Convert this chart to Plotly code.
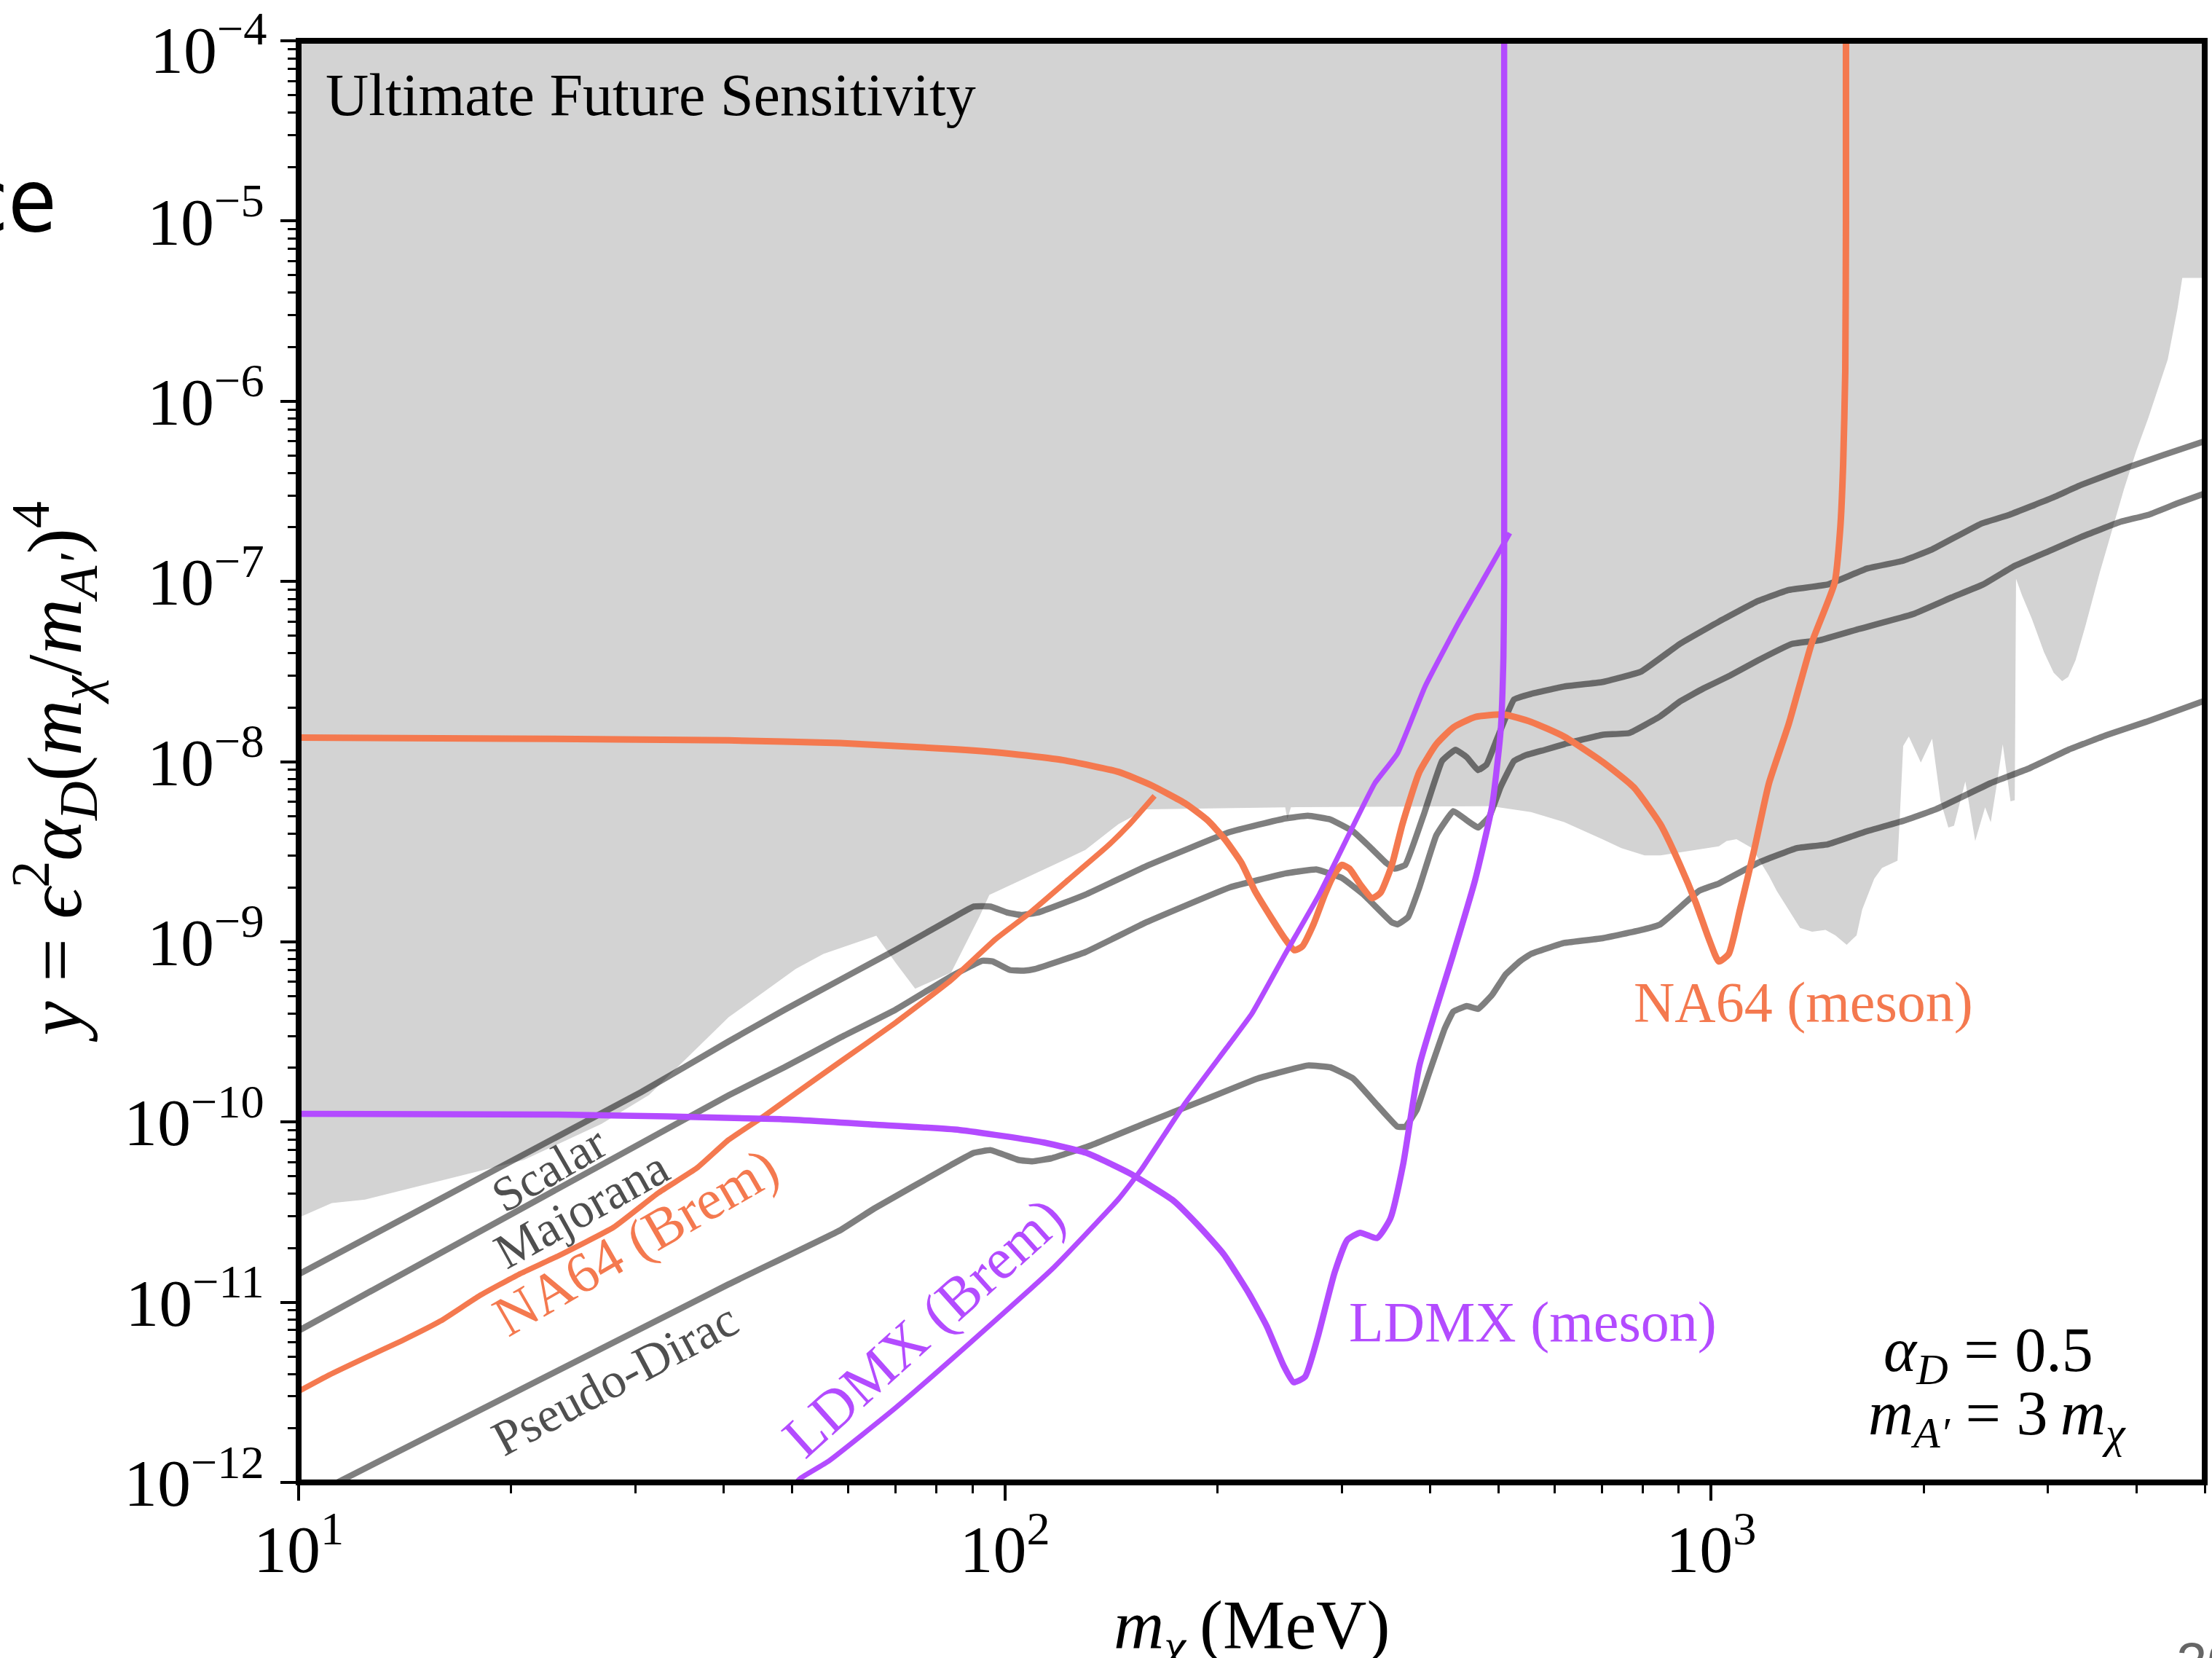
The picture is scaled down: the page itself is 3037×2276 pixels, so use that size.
import numpy as np
import plotly.graph_objects as go

# All curves are stored as log10(m_chi / MeV) and log10(y).

# lower edge of the "Ultimate Future Sensitivity" region (filled up to the top)
region_log_m = [0.99, 1.0, 1.047, 1.094, 1.319, 1.429, 1.496, 1.609, 1.704, 1.743, 1.818,
                1.846, 1.873, 1.924, 1.964, 1.978, 2.082, 2.114, 2.161, 2.2, 2.397, 2.40,
                2.405, 2.689, 2.745, 2.792, 2.846, 2.873, 2.906, 2.928, 3.011, 3.022, 3.036,
                3.058, 3.082, 3.093, 3.126, 3.143, 3.162, 3.176, 3.192, 3.206, 3.214, 3.231,
                3.242, 3.264, 3.267, 3.272, 3.28, 3.297, 3.313, 3.325, 3.336, 3.344, 3.36,
                3.374, 3.388, 3.396, 3.404, 3.413, 3.424, 3.430, 3.4318, 3.4404, 3.4541,
                3.4714, 3.4851, 3.4971, 3.5057, 3.516, 3.5297, 3.5503, 3.5675, 3.5847,
                3.6019, 3.6191, 3.6466, 3.6603, 3.6672, 3.71, 3.71, 0.99]
region_log_y = [-10.53, -10.53, -10.45, -10.43, -10.21, -10.01, -9.85, -9.418, -9.15, -9.067,
                -8.966, -9.12, -9.26, -9.17, -8.86, -8.74, -8.55, -8.49, -8.346, -8.265,
                -8.253, -8.32, -8.253, -8.247, -8.28, -8.335, -8.43, -8.48, -8.52, -8.52,
                -8.47, -8.44, -8.43, -8.48, -8.634, -8.717, -8.923, -8.944, -8.934, -8.964,
                -9.016, -8.964, -8.82, -8.65, -8.59, -8.55, -8.325, -7.913, -7.86, -8.005,
                -7.872, -8.22, -8.366, -8.356, -8.11, -8.44, -8.253, -8.336, -8.14, -7.904,
                -8.22, -8.214, -6.985, -7.078, -7.206, -7.392, -7.507, -7.553, -7.530,
                -7.438, -7.252, -6.951, -6.719, -6.487, -6.278, -6.093, -5.768, -5.489,
                -5.3155, -5.3155, -3.9, -3.9]

scalar_log_m = [1.0, 1.485, 1.609, 1.688, 1.767, 1.845, 1.924, 1.956, 1.980, 2.003, 2.023,
                2.047, 2.114, 2.2, 2.319, 2.397, 2.429, 2.461, 2.493, 2.516, 2.540, 2.552,
                2.567, 2.594, 2.619, 2.638, 2.654, 2.670, 2.682, 2.697, 2.721, 2.745, 2.792,
                2.846, 2.901, 2.956, 3.011, 3.066, 3.110, 3.165, 3.221, 3.271, 3.312, 3.382,
                3.423, 3.483, 3.524, 3.594, 3.640, 3.70]
scalar_log_y = [-10.845, -9.834, -9.552, -9.377, -9.21, -9.046, -8.872, -8.804, -8.804,
                -8.837, -8.851, -8.837, -8.738, -8.58, -8.39, -8.315, -8.30, -8.321, -8.387,
                -8.47, -8.562, -8.594, -8.573, -8.284, -7.996, -7.934, -7.975, -8.047,
                -8.016, -7.872, -7.655, -7.624, -7.583, -7.558, -7.50, -7.346, -7.223,
                -7.109, -7.047, -7.017, -6.928, -6.886, -6.824, -6.68, -6.629, -6.536,
                -6.464, -6.361, -6.299, -6.22]

majorana_log_m = [1.0, 1.609, 1.688, 1.767, 1.845, 1.924, 1.968, 1.983, 2.007, 2.027, 2.043,
                  2.114, 2.200, 2.319, 2.398, 2.441, 2.477, 2.508, 2.548, 2.556, 2.571, 2.587,
                  2.611, 2.635, 2.654, 2.670, 2.686, 2.702, 2.721, 2.737, 2.765, 2.792, 2.846,
                  2.884, 2.928, 2.956, 2.989, 3.027, 3.066, 3.115, 3.154, 3.209, 3.286, 3.341,
                  3.385, 3.428, 3.483, 3.524, 3.579, 3.620, 3.660, 3.70]
majorana_log_y = [-11.158, -9.851, -9.696, -9.531, -9.377, -9.191, -9.105, -9.109, -9.156,
                  -9.160, -9.150, -9.057, -8.892, -8.697, -8.620, -8.598, -8.645, -8.738,
                  -8.892, -8.903, -8.862, -8.697, -8.408, -8.274, -8.325, -8.366, -8.305,
                  -8.140, -7.996, -7.965, -7.934, -7.903, -7.851, -7.841, -7.748, -7.666,
                  -7.594, -7.522, -7.439, -7.346, -7.326, -7.264, -7.181, -7.088, -7.017,
                  -6.917, -6.824, -6.753, -6.67, -6.629, -6.567, -6.51]

pseudo_dirac_log_m = [1.0, 1.063, 1.609, 1.767, 1.815, 1.924, 1.956, 1.98, 2.019, 2.039, 2.066,
                      2.122, 2.20, 2.279, 2.358, 2.429, 2.461, 2.493, 2.524, 2.556, 2.567,
                      2.583, 2.599, 2.623, 2.635, 2.654, 2.670, 2.690, 2.709, 2.729, 2.745,
                      2.792, 2.846, 2.901, 2.928, 2.983, 3.011, 3.066, 3.121, 3.165, 3.220,
                      3.275, 3.319, 3.396, 3.451, 3.506, 3.561, 3.616, 3.70]
pseudo_dirac_log_y = [-12.11, -11.984, -10.90, -10.60, -10.48, -10.238, -10.171, -10.156,
                      -10.21, -10.218, -10.201, -10.129, -10.005, -9.882, -9.758, -9.686,
                      -9.696, -9.758, -9.892, -10.026, -10.026, -9.934, -9.748, -9.48,
                      -9.387, -9.356, -9.372, -9.294, -9.181, -9.109, -9.067, -9.006, -8.98,
                      -8.934, -8.903, -8.717, -8.676, -8.562, -8.480, -8.459, -8.387, -8.325,
                      -8.263, -8.119, -8.036, -7.934, -7.851, -7.779, -7.66]

na64_brem_log_m = [1.0, 1.043, 1.091, 1.146, 1.201, 1.256, 1.312, 1.367, 1.446, 1.509, 1.564,
                   1.609, 1.656, 1.704, 1.767, 1.845, 1.924, 1.987, 2.035, 2.090, 2.145, 2.177,
                   2.212]
na64_brem_log_y = [-11.494, -11.404, -11.314, -11.214, -11.104, -10.964, -10.845, -10.744,
                   -10.584, -10.394, -10.255, -10.098, -9.975, -9.84, -9.665, -9.449, -9.212,
                   -8.985, -8.840, -8.655, -8.47, -8.346, -8.19]

na64_meson_log_m = [1.0, 1.3, 1.609, 1.767, 1.924, 2.003, 2.082, 2.161, 2.207, 2.256, 2.287,
                    2.311, 2.335, 2.354, 2.378, 2.397, 2.410, 2.421, 2.437, 2.453, 2.465,
                    2.477, 2.488, 2.504, 2.520, 2.532, 2.548, 2.563, 2.587, 2.611, 2.635,
                    2.666, 2.706, 2.745, 2.792, 2.846, 2.890, 2.928, 2.956, 2.978, 2.997,
                    3.011, 3.025, 3.041, 3.061, 3.082, 3.110, 3.143, 3.175, 3.183, 3.187,
                    3.190, 3.191, 3.191]
na64_meson_log_y = [-7.866, -7.872, -7.882, -7.897, -7.93, -7.954, -7.991, -8.057, -8.13,
                    -8.233, -8.325, -8.428, -8.562, -8.717, -8.871, -8.985, -9.046, -9.026,
                    -8.903, -8.738, -8.634, -8.573, -8.594, -8.686, -8.758, -8.727, -8.573,
                    -8.346, -8.057, -7.903, -7.81, -7.752, -7.738, -7.779, -7.861, -8.0,
                    -8.14, -8.346, -8.573, -8.779, -8.985, -9.109, -9.067, -8.82, -8.49,
                    -8.119, -7.79, -7.336, -7.006, -6.70, -6.35, -5.834, -5.0, -3.9]

ldmx_brem_log_m = [1.70, 1.711, 1.751, 1.8455, 1.952, 2.070, 2.161, 2.193, 2.227, 2.256, 2.319,
                   2.350, 2.397, 2.445, 2.492, 2.524, 2.556, 2.595, 2.642, 2.675, 2.715]
ldmx_brem_log_y = [-12.02, -11.976, -11.88, -11.585, -11.221, -10.804, -10.427, -10.265,
                   -10.063, -9.892, -9.562, -9.397, -9.067, -8.738, -8.366, -8.119, -7.954,
                   -7.583, -7.232, -7.006, -6.731]

ldmx_meson_log_m = [1.0, 1.367, 1.682, 1.815, 1.936, 2.056, 2.117, 2.177, 2.238, 2.274, 2.31,
                    2.346, 2.371, 2.395, 2.409, 2.425, 2.443, 2.467, 2.485, 2.503, 2.527,
                    2.546, 2.564, 2.587, 2.635, 2.666, 2.690, 2.702, 2.706, 2.707, 2.707,
                    2.707]
ldmx_meson_log_y = [-9.954, -9.958, -9.984, -10.014, -10.044, -10.114, -10.174, -10.285,
                    -10.434, -10.574, -10.734, -10.954, -11.134, -11.354, -11.444, -11.414,
                    -11.194, -10.834, -10.654, -10.614, -10.644, -10.534, -10.234, -9.686,
                    -9.067, -8.655, -8.243, -7.83, -7.418, -7.006, -5.5, -3.9]

x_major = [10, 100, 1000]
x_major_text = ["10<sup>1</sup>", "10<sup>2</sup>", "10<sup>3</sup>"]
y_exponents = list(range(-12, -3))
y_major = [float("1e%d" % k) for k in y_exponents]
y_major_text = ["10<sup>\u2212%d</sup>" % -k for k in y_exponents]

x_minor = [float("%de%d" % (d, e)) for e in (1, 2, 3) for d in range(2, 10)
           if d * 10 ** e <= 5000]
y_minor = [float("%de%d" % (d, e)) for e in range(-12, -4) for d in range(2, 10)]

ORANGE = "#f4794f"
PURPLE = "#b34bff"
GRAY_LINE = "rgba(0,0,0,0.5)"
GRAY_TEXT = "#4f4f4f"
SERIF = "Liberation Serif, Times New Roman, serif"
TICK_SIZE = 92


def xy(lm, ly):
    return 10.0 ** np.asarray(lm, float), 10.0 ** np.asarray(ly, float)


fig = go.Figure()

rx, ry = xy(region_log_m, region_log_y)
fig.add_trace(go.Scatter(x=rx, y=ry, mode="lines", fill="toself", fillcolor="#d3d3d3",
                         line=dict(width=0, color="#d3d3d3"), hoverinfo="skip"))

for lm, ly in [(scalar_log_m, scalar_log_y), (majorana_log_m, majorana_log_y),
               (pseudo_dirac_log_m, pseudo_dirac_log_y)]:
    gx, gy = xy(lm, ly)
    fig.add_trace(go.Scatter(x=gx, y=gy, mode="lines",
                             line=dict(color=GRAY_LINE, width=8.5, shape="spline",
                                       smoothing=0.3)))

bx, by = xy(na64_brem_log_m, na64_brem_log_y)
fig.add_trace(go.Scatter(x=bx, y=by, mode="lines",
                         line=dict(color=ORANGE, width=7.5, shape="spline", smoothing=0.4)))
mx, my = xy(na64_meson_log_m, na64_meson_log_y)
fig.add_trace(go.Scatter(x=mx, y=my, mode="lines",
                         line=dict(color=ORANGE, width=9, shape="spline", smoothing=0.5)))
lx, ly_ = xy(ldmx_brem_log_m, ldmx_brem_log_y)
fig.add_trace(go.Scatter(x=lx, y=ly_, mode="lines",
                         line=dict(color=PURPLE, width=7, shape="spline", smoothing=0.4)))
kx, ky = xy(ldmx_meson_log_m, ldmx_meson_log_y)
fig.add_trace(go.Scatter(x=kx, y=ky, mode="lines",
                         line=dict(color=PURPLE, width=8.5, shape="spline", smoothing=0.5)))

tick_font = dict(family=SERIF, size=TICK_SIZE, color="black")
axis_common = dict(type="log", showgrid=False, zeroline=False, showline=False,
                   ticks="outside", ticklen=24, tickwidth=4, tickcolor="black",
                   tickfont=tick_font, automargin=False, ticklabeloverflow="allow")

# the topmost y label is written separately so its superscript stays on the page
y_tick_text_axis = y_major_text[:-1] + [""]

fig.update_xaxes(range=[1, np.log10(5000)], tickmode="array", tickvals=x_major,
                 ticktext=x_major_text, ticklabelstandoff=-12,
                 minor=dict(tickmode="array", tickvals=x_minor, ticks="outside",
                            ticklen=14, tickwidth=3, tickcolor="black"),
                 **axis_common)
fig.update_yaxes(range=[-12, -3.9995], tickmode="array", tickvals=y_major,
                 ticktext=y_tick_text_axis, ticklabelstandoff=4,
                 minor=dict(tickmode="array", tickvals=y_minor, ticks="outside",
                            ticklen=14, tickwidth=3, tickcolor="black"),
                 **axis_common)

fig.add_annotation(text=y_major_text[-1], xref="paper", x=0, yref="y",
                   y=float(np.log10(y_major[-1])), xanchor="right", yanchor="bottom",
                   xshift=-41, yshift=-66, showarrow=False, font=tick_font)

# plot frame
fig.add_shape(type="rect", xref="paper", yref="paper", x0=0, x1=1, y0=0, y1=1,
              line=dict(color="black", width=8), layer="above")


def label(text, x, y, size, color, angle=0, xanchor="center"):
    fig.add_annotation(text=text, x=x, y=y, xref="x", yref="y", showarrow=False,
                       textangle=angle, xanchor=xanchor, yanchor="middle",
                       font=dict(family=SERIF, size=size, color=color))


label("Ultimate Future Sensitivity", 1.0356, -4.299, 82, "black", xanchor="left")
label("Scalar", 1.3546, -10.259, 67, GRAY_TEXT, angle=-30)
label("Majorana", 1.4003, -10.484, 68, GRAY_TEXT, angle=-29)
label("Pseudo-Dirac", 1.4476, -11.424, 68, GRAY_TEXT, angle=-28)
label("NA64 (Brem)", 1.4773, -10.664, 78, ORANGE, angle=-30)
label("LDMX (Brem)", 1.8858, -11.138, 80, PURPLE, angle=-42)
label("LDMX (meson)", 2.7474, -11.107, 78, PURPLE)
label("NA64 (meson)", 3.1304, -9.333, 78, ORANGE)
label("<i>\u03b1</i><sub><i>D</i></sub>\u00a0=\u00a00.5", 3.393, -11.289, 86, "black")
label("<i>m</i><sub><i>A\u2032</i></sub>\u00a0=\u00a03\u2009<i>m</i><sub><i>\u03c7</i></sub>",
      3.4054, -11.64, 86, "black")

# axis titles
fig.add_annotation(text="<i>m</i><sub><i>\u03c7</i></sub>\u2009(MeV)", x=0.5, y=-0.0705,
                   xref="paper", yref="paper", showarrow=False, xanchor="center",
                   yanchor="top", font=dict(family=SERIF, size=96, color="black"))
fig.add_annotation(text="<i>y</i> = <i>\u03f5</i><sup>2</sup><i>\u03b1</i><sub><i>D</i></sub>"
                        "(<i>m</i><sub><i>\u03c7</i></sub>/<i>m</i><sub><i>A\u2032</i></sub>)"
                        "<sup>4</sup>",
                   x=-0.128, y=0.493, xref="paper", yref="paper", showarrow=False,
                   textangle=-90, xanchor="center", yanchor="middle",
                   font=dict(family=SERIF, size=106, color="black"))

# slide fragments around the figure
fig.add_annotation(text="ce", x=-0.1261, y=0.853, xref="paper", yref="paper",
                   showarrow=False, xanchor="right", yanchor="bottom",
                   font=dict(family="Liberation Sans Narrow, DejaVu Sans Condensed, "
                                    "Liberation Sans, sans-serif", size=120,
                             color="black"))
fig.add_annotation(text="20", x=0.9843, y=-0.1022, xref="paper", yref="paper",
                   showarrow=False, xanchor="left", yanchor="top",
                   font=dict(family="Liberation Sans, Arial, sans-serif", size=76,
                             color="#666666"))

fig.update_layout(width=3037, height=2276, showlegend=False,
                  margin=dict(l=410, r=10, t=56, b=241, autoexpand=False),
                  paper_bgcolor="white", plot_bgcolor="white")

fig.write_html("out.html")
